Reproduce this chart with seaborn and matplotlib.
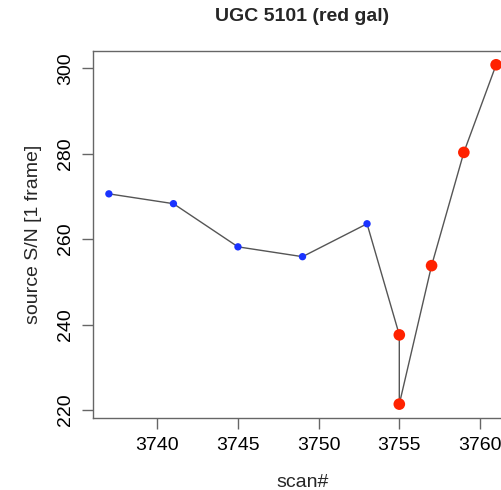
import matplotlib
matplotlib.use("Agg")
import matplotlib.pyplot as plt
import seaborn as sns
import pandas as pd

scan = [3737, 3741, 3745, 3749, 3753, 3755, 3755, 3757, 3759, 3761]
sn = [270.6, 268.3, 258.2, 255.9, 263.6, 237.6, 221.4, 253.8, 280.3, 300.8]
group = ["blue", "blue", "blue", "blue", "blue", "red", "red", "red", "red", "red"]
xticks = [3740, 3745, 3750, 3755, 3760]
yticks = [220, 240, 260, 280, 300]

df = pd.DataFrame({"scan": scan, "sn": sn, "group": group})

sns.set_style("white")
plt.rcParams["font.family"] = ["Liberation Sans", "DejaVu Sans"]

fig = plt.figure(figsize=(5.02, 4.9), dpi=100)
ax = fig.add_axes([93.4 / 502, 1 - 417.7 / 490, 418.2 / 502, (417.7 - 51.2) / 490])

sns.lineplot(data=df, x="scan", y="sn", sort=False, estimator=None, color="#555555",
             lw=1.0, ax=ax, zorder=1)
blue = df[df.group == "blue"]
red = df[df.group == "red"]
sns.scatterplot(data=blue, x="scan", y="sn", color="#1a33ff", s=28, edgecolor="none", ax=ax, zorder=3)
sns.scatterplot(data=red, x="scan", y="sn", color="#ff2200", s=70, edgecolor="none", ax=ax, zorder=3)

rng_x = max(scan) - min(scan)
rng_y = max(sn) - min(sn)
ax.set_xlim(min(scan) - 0.04 * rng_x, max(scan) + 0.04 * rng_x)
ax.set_ylim(min(sn) - 0.04 * rng_y, max(sn) + 0.04 * rng_y)
ax.set_xticks(xticks)
ax.set_yticks(yticks)
ax.set_xticklabels([str(t) for t in xticks])
ax.set_yticklabels([str(t) for t in yticks], rotation=90, va="center")

for s in ax.spines.values():
    s.set_visible(True)
    s.set_color("#666666")
    s.set_linewidth(1.0)

ax.tick_params(axis="both", direction="out", length=8, width=1.0, color="#666666",
               labelsize=14, labelcolor="black", pad=6)
ax.tick_params(axis="both", which="both", bottom=True, left=True, top=False, right=False)

ax.set_xlabel("scan#", fontsize=14, labelpad=14)
ax.set_ylabel("source S/N [1 frame]", fontsize=14, labelpad=11)
ax.set_title("UGC 5101 (red gal)", fontsize=14, fontweight="bold", pad=22, x=(302 - 93.4) / 418.2)
ax.grid(False)

fig.savefig("out.png", dpi=100)
